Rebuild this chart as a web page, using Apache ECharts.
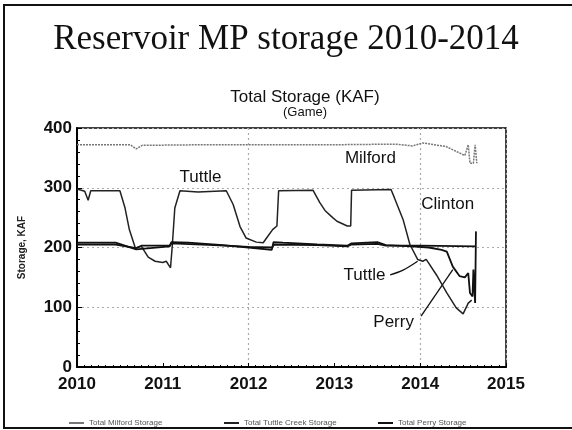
<!DOCTYPE html>
<html>
<head>
<meta charset="utf-8">
<script src="https://cdn.jsdelivr.net/npm/echarts@6/dist/echarts.min.js"></script>
<style>
  html, body { margin: 0; padding: 0; background: #fff; }
  #main { width: 572px; height: 430px; }
</style>
</head>
<body>
<div id="main"></div>
<script>
// storage values, KAF, as [year, value]
const milford = [
  [2010.0, 372], [2010.62, 372], [2010.69, 365], [2010.76, 371], [2011.5, 372],
  [2012.5, 372], [2013.0, 372], [2013.72, 373], [2013.91, 370], [2014.03, 375],
  [2014.3, 369], [2014.52, 354], [2014.56, 372], [2014.58, 341], [2014.62, 341],
  [2014.64, 372], [2014.66, 341]
]
const tuttle = [
  [2010.0, 298], [2010.09, 294], [2010.13, 279], [2010.16, 295], [2010.5, 295],
  [2010.56, 266], [2010.61, 230], [2010.68, 199], [2010.75, 202], [2010.83, 184],
  [2010.91, 177], [2011.0, 175], [2011.04, 177], [2011.09, 166], [2011.11, 202],
  [2011.14, 266], [2011.2, 295], [2011.41, 293], [2011.42, 295], [2011.74, 295],
  [2011.82, 272], [2011.9, 235], [2011.97, 216], [2012.09, 209], [2012.17, 208],
  [2012.22, 218], [2012.28, 230], [2012.33, 236], [2012.35, 295], [2012.75, 296],
  [2012.83, 275], [2012.89, 262], [2012.98, 250], [2013.03, 244], [2013.15, 236],
  [2013.19, 236], [2013.2, 296], [2013.66, 297], [2013.7, 283], [2013.8, 247],
  [2013.88, 205], [2013.97, 180], [2014.03, 177], [2014.07, 180], [2014.19, 154],
  [2014.31, 124], [2014.42, 99], [2014.5, 89], [2014.52, 88], [2014.56, 107],
  [2014.6, 112]
]
const perry = [
  [2010.0, 208], [2010.45, 208], [2010.69, 197], [2011.08, 202], [2011.1, 209],
  [2011.3, 208], [2011.7, 204], [2012.0, 200], [2012.27, 196], [2012.29, 209],
  [2012.4, 208], [2012.8, 205], [2013.15, 203], [2013.2, 207], [2013.5, 209],
  [2013.6, 204], [2013.9, 202], [2014.1, 200], [2014.25, 196], [2014.31, 193],
  [2014.38, 168], [2014.46, 152], [2014.52, 150], [2014.56, 157], [2014.58, 124],
  [2014.61, 118], [2014.62, 163], [2014.64, 107], [2014.65, 227]
]
const clinton = [
  [2010.0, 205], [2010.45, 205], [2010.69, 199], [2010.75, 203], [2011.08, 203],
  [2011.1, 207], [2011.6, 204], [2012.0, 201], [2012.27, 200], [2012.3, 205],
  [2012.8, 204], [2013.15, 202], [2013.2, 205], [2013.5, 206], [2013.6, 203],
  [2014.0, 203], [2014.65, 202]
]
const legendNames = ['Total Milford Storage', 'Total Tuttle Creek Storage', 'Total Perry Storage']
// labels placed in data space: [text, year, value]
const labels = [
  ['Tuttle', 2011.44, 318],
  ['Milford', 2013.42, 350],
  ['Clinton', 2014.32, 272],
  ['Tuttle', 2013.35, 154],
  ['Perry', 2013.69, 75]
]
const pointers = [
  [[2013.65, 154], [2013.8, 162], [2013.97, 177]],
  [[2014.01, 85], [2014.38, 163]]
]

const font = 'Liberation Sans, Arial, sans-serif'
const mychart = echarts.init(document.getElementById('main'))

const option = {
  animation: false,
  backgroundColor: '#fff',
  title: [
    {
      text: 'Reservoir MP storage 2010-2014',
      left: 'center',
      top: 17,
      textStyle: { fontFamily: 'Liberation Serif, Times New Roman, serif', fontSize: 35, fontWeight: 'normal', color: '#111' }
    },
    {
      text: 'Total Storage (KAF)',
      subtext: '(Game)',
      left: 300,
      textAlign: 'center',
      top: 84,
      itemGap: 0,
      textStyle: { fontFamily: font, fontSize: 17, fontWeight: 'normal', color: '#111' },
      subtextStyle: { fontFamily: font, fontSize: 13, color: '#111' }
    }
  ],
  legend: [0, 1, 2].map(i => ({
    data: [legendNames[i]],
    left: [64, 219, 373][i],
    top: 414,
    itemWidth: 15,
    itemHeight: 2,
    icon: 'rect',
    textStyle: { fontFamily: font, fontSize: 8, color: '#555' }
  })),
  grid: {
    left: 77, right: 66, top: 128, bottom: 63,
    show: true, borderColor: '#000', borderWidth: 1.5
  },
  xAxis: [
    {
      type: 'value', min: 2010, max: 2015, interval: 1,
      axisLine: { lineStyle: { color: '#000', width: 2 } },
      axisTick: { inside: true, length: 4, lineStyle: { color: '#000' } },
      minorTick: { show: true, splitNumber: 12, length: 2, lineStyle: { color: '#000' } },
      splitLine: { show: false },
      axisLabel: { fontFamily: font, fontSize: 17, fontWeight: 'bold', color: '#111', margin: 9, formatter: v => String(v) }
    },
    {
      type: 'value', min: 2010, max: 2015, interval: 2, position: 'bottom',
      axisLine: { show: false }, axisTick: { show: false }, axisLabel: { show: false },
      splitLine: { show: true, lineStyle: { color: '#aaa', type: [2, 3], width: 1.2 } }
    }
  ],
  yAxis: {
    type: 'value', min: 0, max: 400, interval: 100,
    name: 'Storage, KAF', nameLocation: 'middle', nameGap: 50,
    nameTextStyle: { fontFamily: font, fontSize: 10, fontWeight: 'bold', color: '#222' },
    axisLine: { show: true, lineStyle: { color: '#000', width: 2 } },
    axisTick: { inside: true, length: 5, lineStyle: { color: '#000' } },
    minorTick: { show: true, splitNumber: 5, length: 3, lineStyle: { color: '#000' } },
    splitLine: { show: true, lineStyle: { color: '#aaa', type: [2, 3], width: 1.2 } },
    axisLabel: { fontFamily: font, fontSize: 17, fontWeight: 'bold', color: '#111', margin: 5 }
  },
  series: [
    {
      name: 'Total Milford Storage', type: 'line', data: milford, symbol: 'none',
      lineStyle: { color: '#777', width: 1.5, type: [2, 1] }, itemStyle: { color: '#777' }
    },
    {
      name: 'Total Tuttle Creek Storage', type: 'line', data: tuttle, symbol: 'none',
      lineStyle: { color: '#222', width: 1.5 }, itemStyle: { color: '#222' }
    },
    {
      name: 'Total Perry Storage', type: 'line', data: perry, symbol: 'none',
      lineStyle: { color: '#111', width: 1.8 }, itemStyle: { color: '#111' }
    },
    {
      name: 'Clinton', type: 'line', data: clinton, symbol: 'none',
      lineStyle: { color: '#111', width: 1.8 }, itemStyle: { color: '#111' }
    }
  ]
}

mychart.setOption(option)

// annotations and the slide frame
const px = p => mychart.convertToPixel({ gridIndex: 0 }, p)
const graphic = labels.map(l => {
  const [x, y] = px([l[1], l[2]])
  return {
    type: 'text', x: x, y: y,
    style: { text: l[0], fontFamily: font, fontSize: 17, fill: '#111', align: 'center', verticalAlign: 'middle' }
  }
})
pointers.forEach(p => {
  graphic.push({
    type: 'polyline',
    shape: { points: p.map(px), smooth: 0.3 },
    style: { stroke: '#111', lineWidth: 1.3, fill: null }
  })
})
graphic.push({
  type: 'polyline',
  shape: { points: [[572, 5], [4, 5], [4, 428], [572, 428]] },
  style: { stroke: '#111', lineWidth: 2, fill: null }
})
mychart.setOption({ graphic: graphic })
</script>
</body>
</html>
